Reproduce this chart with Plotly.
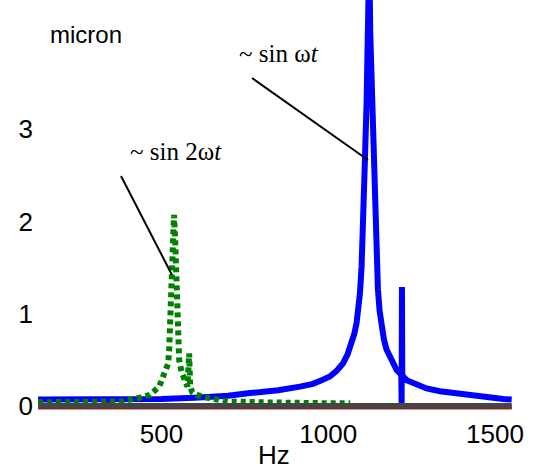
import plotly.graph_objects as go

# ---- data (Hz, micron) ----
blue_hz = [130, 200, 300, 400, 500, 600, 700, 765, 850, 915, 954, 980, 1005, 1025, 1044,
           1058, 1070, 1078, 1085, 1090, 1095, 1100, 1103, 1105, 1107, 1110, 1115, 1120,
           1123, 1126, 1131, 1138, 1141, 1144, 1147, 1149, 1154, 1160, 1167, 1175, 1190,
           1205, 1216, 1219, 1220, 1221, 1222, 1235, 1265, 1295, 1335, 1376, 1415, 1456,
           1494, 1525, 1550]
blue_um = [0.07, 0.07, 0.07, 0.07, 0.075, 0.09, 0.11, 0.14, 0.17, 0.21, 0.24, 0.28, 0.32, 0.38, 0.46,
           0.56, 0.68, 0.78, 0.9, 1.03, 1.22, 1.51, 1.78, 2.02, 2.23, 2.67, 3.3, 4.04,
           4.9, 4.04, 3.3, 2.67, 2.2, 1.87, 1.5, 1.26, 1.03, 0.86, 0.72, 0.61, 0.48,
           0.39, 0.35, 0.34, 0.03, 1.29, 0.33, 0.28, 0.23, 0.19, 0.16, 0.14, 0.12, 0.1,
           0.08, 0.075, 0.07]

green_hz = [130, 200, 300, 380, 435, 465, 493, 505, 520, 523, 526, 529, 531, 534, 537.5,
            541, 544, 546, 548, 550, 553, 560, 570, 578, 583, 586, 592, 605, 635, 665,
            700, 800, 900, 1000, 1066]
green_um = [0.04, 0.04, 0.04, 0.05, 0.09, 0.12, 0.21, 0.34, 0.46, 0.6, 0.85, 1.15, 1.45, 1.8, 2.07,
            1.8, 1.44, 1.15, 0.85, 0.63, 0.5, 0.37, 0.26, 0.21, 0.57, 0.22, 0.15, 0.12, 0.09, 0.07,
            0.05, 0.04, 0.03, 0.03, 0.03]

red_hz = [130, 335, 340, 345, 1550]
red_um = [-0.01, -0.01, 0.02, -0.01, -0.01]

gray_hz = [130, 1550]
gray_um = [0.0, 0.0]

x_ticks = [500, 1000, 1500]
y_ticks = [0, 1, 2, 3]

# ---- layout geometry (pixels) ----
W, H = 538, 473
L, R, T, B = 38, 26, 0, 61
PW, PH = W - L - R, H - T - B


def px(x):
    return (x - L) / PW


def py(y):
    return (T + PH - y) / PH


fig = go.Figure()
fig.add_trace(go.Scatter(x=red_hz, y=red_um, mode="lines",
                         line=dict(color="#e00000", width=5), hoverinfo="skip"))
fig.add_trace(go.Scatter(x=blue_hz, y=blue_um, mode="lines",
                         line=dict(color="#0000ff", width=6), hoverinfo="skip"))
fig.add_trace(go.Scatter(x=green_hz, y=green_um, mode="lines",
                         line=dict(color="#008000", width=6, dash="5px,4px"), hoverinfo="skip"))
fig.add_trace(go.Scatter(x=gray_hz, y=gray_um, mode="lines",
                         line=dict(color="#454545", width=6), hoverinfo="skip"))

tick_font = dict(family="Liberation Sans, Arial", size=26, color="black")
serif = dict(family="Liberation Serif, Times New Roman", size=25, color="black")

fig.update_layout(
    width=W, height=H,
    margin=dict(l=L, r=R, t=T, b=B, pad=0),
    paper_bgcolor="white", plot_bgcolor="white",
    showlegend=False,
    xaxis=dict(range=[129.7, 1551], tickvals=x_ticks, ticktext=[str(v) for v in x_ticks],
               showgrid=False, zeroline=False, showline=False, ticks="",
               tickfont=tick_font, ticklabelstandoff=4),
    yaxis=dict(range=[-(PH - 406) / 92.3, 406 / 92.3], tickvals=y_ticks,
               ticktext=[str(v) for v in y_ticks],
               showgrid=False, zeroline=False, showline=False, ticks="",
               tickfont=tick_font, ticklabelstandoff=4),
    annotations=[
        dict(text="micron", x=px(86), y=py(35), xref="paper", yref="paper",
             showarrow=False, xanchor="center", yanchor="middle",
             font=dict(family="Liberation Sans, Arial", size=24, color="black")),
        dict(text="Hz", x=px(274), y=py(455), xref="paper", yref="paper",
             showarrow=False, xanchor="center", yanchor="middle",
             font=dict(family="Liberation Sans, Arial", size=26, color="black")),
        dict(text="~ sin ω<i>t</i>", x=px(279), y=py(53), xref="paper", yref="paper",
             showarrow=False, xanchor="center", yanchor="middle", font=serif),
        dict(text="~ sin 2ω<i>t</i>", x=px(176), y=py(152), xref="paper", yref="paper",
             showarrow=False, xanchor="center", yanchor="middle", font=serif),
    ],
    shapes=[
        dict(type="line", xref="paper", yref="paper", x0=px(252), y0=py(78),
             x1=px(368), y1=py(160), line=dict(color="black", width=2)),
        dict(type="line", xref="paper", yref="paper", x0=px(121), y0=py(176),
             x1=px(172), y1=py(275), line=dict(color="black", width=2)),
    ],
)

fig.write_html("out.html")
